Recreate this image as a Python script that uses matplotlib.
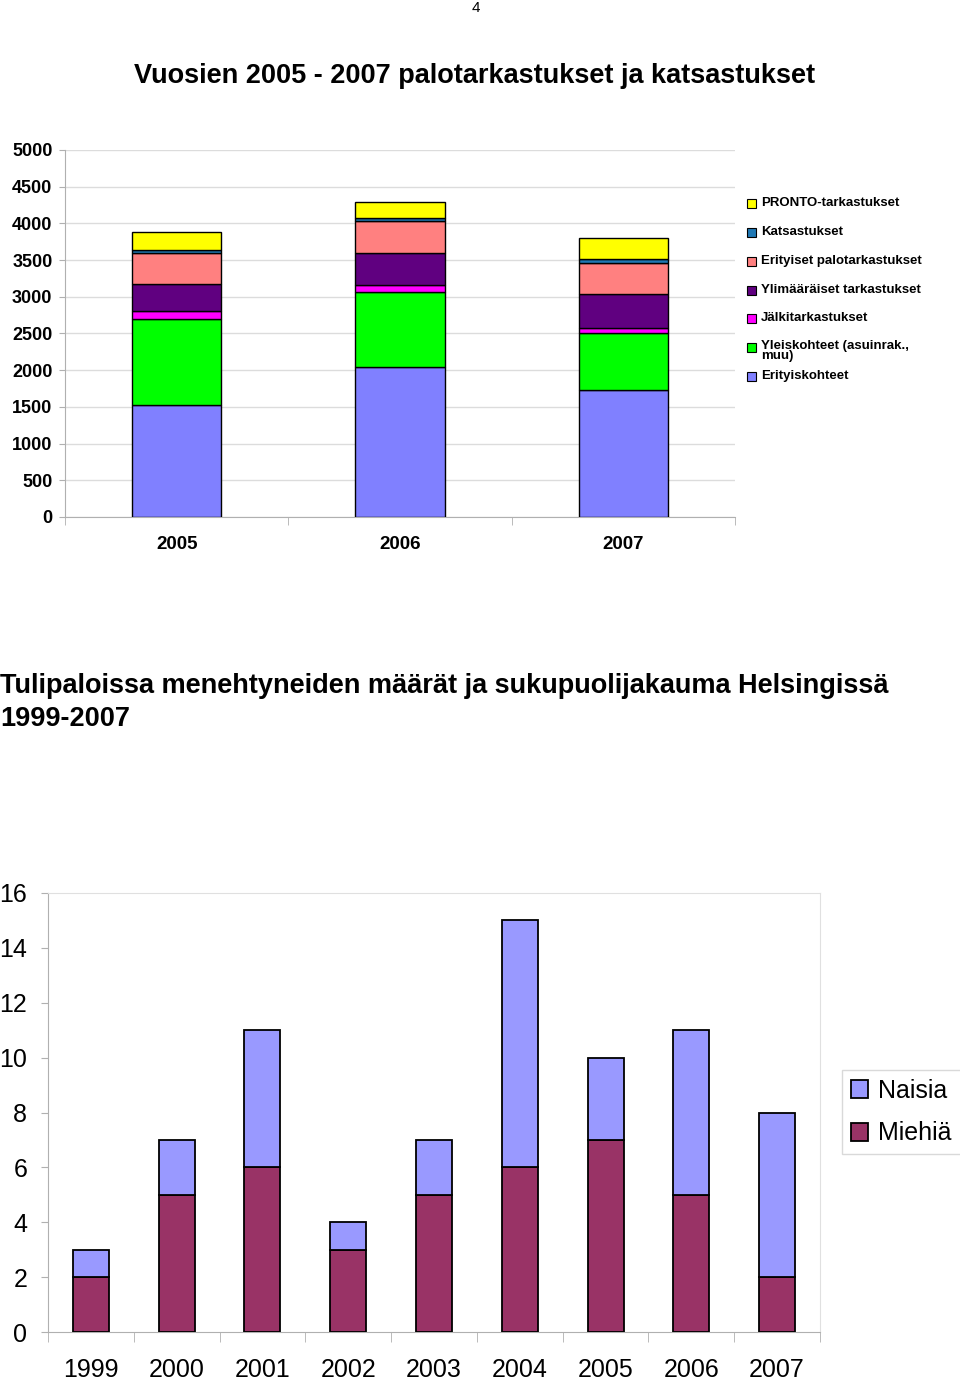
import matplotlib
matplotlib.use("Agg")
import matplotlib.pyplot as plt
import numpy as np
from matplotlib.patches import Rectangle

plt.rcParams["font.family"] = ["Liberation Sans", "DejaVu Sans"]

# --- top chart data ---
years_top = ["2005", "2006", "2007"]
series_names = ["Erityiskohteet", "Yleiskohteet (asuinrak.,\nmuu)",
                "Jälkitarkastukset", "Ylimääräiset tarkastukset",
                "Erityiset palotarkastukset", "Katsastukset",
                "PRONTO-tarkastukset"]
erityiskohteet = [1532, 2041, 1732]
yleiskohteet = [1172, 1022, 772]
jalkitarkastukset = [109, 96, 69]
ylimaaraiset = [364, 436, 459]
erityiset_palo = [423, 436, 422]
katsastukset = [41, 46, 55]
pronto = [236, 213, 295]
top_colors = ["#8080FF", "#00FF00", "#FF00FF", "#600080",
              "#FF8080", "#1F78B4", "#FFFF00"]

# --- bottom chart data ---
years_bottom = ["1999", "2000", "2001", "2002", "2003",
                "2004", "2005", "2006", "2007"]
miehia = [2, 5, 6, 3, 5, 6, 7, 5, 2]
naisia = [1, 2, 5, 1, 2, 9, 3, 6, 6]

W, H = 960, 1382
fig = plt.figure(figsize=(9.6, 13.82), dpi=100)

def fx(px):
    return px / W

def fy(py):
    return 1 - py / H

grey = "#b0b0b0"

fig.text(fx(476), fy(8), "4", ha="center", va="center", fontsize=11)
fig.text(fx(475), fy(76), "Vuosien 2005 - 2007 palotarkastukset ja katsastukset",
         ha="center", va="center", fontsize=19.5, fontweight="bold")

# ---------- top stacked chart ----------
ax1 = fig.add_axes([fx(65), fy(517), fx(735) - fx(65), fy(150) - fy(517)])
x = np.arange(len(years_top))
stack = [erityiskohteet, yleiskohteet, jalkitarkastukset, ylimaaraiset,
         erityiset_palo, katsastukset, pronto]
bottom = np.zeros(len(years_top))
for vals, col in zip(stack, top_colors):
    ax1.bar(x, vals, width=0.4, bottom=bottom, color=col,
            edgecolor="black", linewidth=1.0, zorder=3)
    bottom += np.array(vals)
ax1.set_xlim(-0.5, 2.5)
ax1.set_ylim(0, 5000)
ax1.set_yticks(np.arange(0, 5001, 500))
ax1.set_yticklabels([str(v) for v in range(0, 5001, 500)],
                    fontsize=13, fontweight="bold")
ax1.set_xticks(x)
ax1.set_xticklabels(years_top, fontsize=13.5, fontweight="bold")
ax1.tick_params(axis="x", length=0, pad=14)
ax1.set_xticks([-0.5, 0.5, 1.5, 2.5], minor=True)
ax1.tick_params(axis="x", which="minor", length=6, color=grey, direction="out")
ax1.tick_params(axis="y", length=4, color=grey, pad=5)
ax1.grid(axis="y", color="#dcdcdc", linewidth=1.0, zorder=0)
for s in ["top", "right"]:
    ax1.spines[s].set_visible(False)
for s in ["left", "bottom"]:
    ax1.spines[s].set_color(grey)

# manual legend (reverse order, top = PRONTO)
leg_y = [203, 232, 261, 290, 318, 347, 376]
for yy, name, col in zip(leg_y, series_names[::-1], top_colors[::-1]):
    fig.patches.append(Rectangle((fx(747), fy(yy + 4.5)), fx(9), fy(0) - fy(9),
                                 transform=fig.transFigure, facecolor=col,
                                 edgecolor="black", linewidth=0.8))
    if "\n" in name:
        fig.text(fx(761), fy(yy - 7), name, ha="left", va="top",
                 fontsize=9.5, fontweight="bold", linespacing=0.8)
    else:
        fig.text(fx(761), fy(yy), name, ha="left", va="center",
                 fontsize=9.5, fontweight="bold")

# ---------- bottom chart ----------
fig.text(fx(0), fy(686), "Tulipaloissa menehtyneiden määrät ja sukupuolijakauma Helsingissä",
         ha="left", va="center", fontsize=19.5, fontweight="bold")
fig.text(fx(0), fy(719), "1999-2007", ha="left", va="center",
         fontsize=19.5, fontweight="bold")

ax2 = fig.add_axes([fx(48), fy(1332), fx(820) - fx(48), fy(893) - fy(1332)])
xb = np.arange(len(years_bottom))
b1 = ax2.bar(xb, miehia, width=0.42, color="#993366", edgecolor="black",
             linewidth=1.3, label="Miehiä", zorder=3)
b2 = ax2.bar(xb, naisia, width=0.42, bottom=miehia, color="#9999FF",
             edgecolor="black", linewidth=1.3, label="Naisia", zorder=3)
ax2.set_xlim(-0.5, 8.5)
ax2.set_ylim(0, 16)
ax2.set_yticks(np.arange(0, 17, 2))
ax2.set_yticklabels([str(v) for v in range(0, 17, 2)], fontsize=18)
ax2.set_xticks(xb)
ax2.set_xticklabels(years_bottom, fontsize=18)
ax2.tick_params(axis="x", length=0, pad=19)
ax2.set_xticks(np.arange(-0.5, 9, 1), minor=True)
ax2.tick_params(axis="x", which="minor", length=7, color=grey, direction="out")
ax2.tick_params(axis="y", length=5, color=grey, pad=10)
for s in ["top", "right"]:
    ax2.spines[s].set_color("#e0e0e0")
for s in ["left", "bottom"]:
    ax2.spines[s].set_color(grey)

leg = fig.legend([b2, b1], ["Naisia", "Miehiä"], loc="upper left",
                 bbox_to_anchor=(fx(842), fy(1070)), fontsize=18,
                 frameon=True, fancybox=False, handlelength=0.7,
                 handleheight=0.7, handletextpad=0.4, labelspacing=0.75,
                 borderpad=0.35, borderaxespad=0)
leg.get_frame().set_edgecolor("#d0d0d0")
leg.get_frame().set_linewidth(1.0)

fig.savefig("out.png", dpi=100)
